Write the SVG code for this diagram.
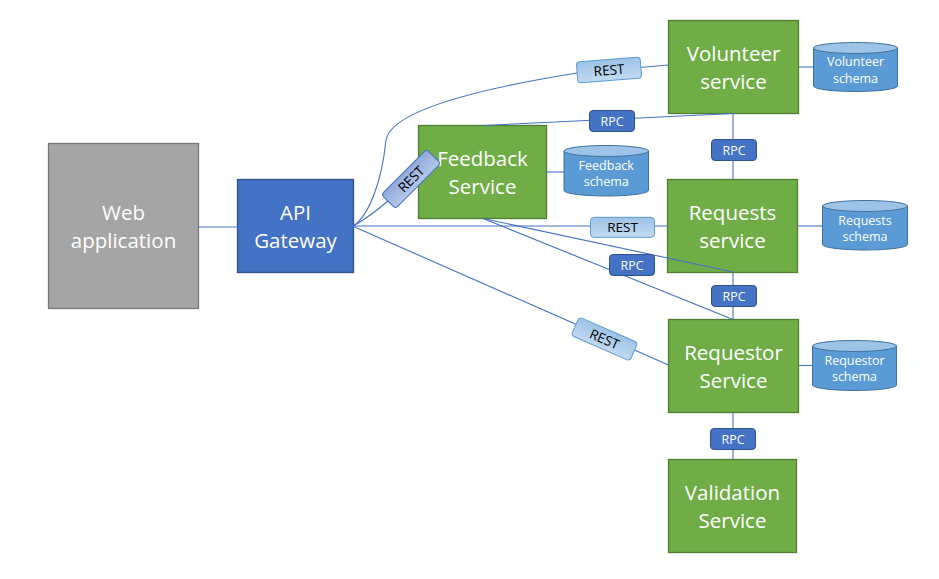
<svg xmlns="http://www.w3.org/2000/svg" width="939" height="579" viewBox="0 0 939 579">
<defs>
<linearGradient id="gRest" x1="0" y1="0" x2="0" y2="1">
<stop offset="0" stop-color="#9DC3E6"/>
<stop offset="1" stop-color="#C2DAF0"/>
</linearGradient>
<linearGradient id="gRest2" x1="0" y1="0" x2="0" y2="1">
<stop offset="0" stop-color="#8FAADC"/>
<stop offset="1" stop-color="#B4C7E7"/>
</linearGradient>
</defs>
<style>
.green{fill:#70AD47;stroke:#507E32;stroke-width:1.3}
.blue{fill:#4472C4;stroke:#2F528F;stroke-width:1.3}
.gray{fill:#A5A5A5;stroke:#787878;stroke-width:1.3}
.tn{font-family:"Open Sans","Noto Sans",sans-serif;font-size:20.5px;fill:#FFFFFF;text-anchor:middle}
.ts{font-family:"Open Sans","Noto Sans",sans-serif;font-size:12.5px;fill:#FFFFFF;text-anchor:middle}
.cb{fill:#5B9BD5;stroke:#41719C;stroke-width:1}
.ct{fill:#9DC3E6;stroke:#41719C;stroke-width:1}
.conn{fill:none;stroke:#4472C4;stroke-width:1.1}
.lrest{fill:url(#gRest);stroke:#5B9BD5;stroke-width:1}
.lrest2{fill:url(#gRest2);stroke:#4472C4;stroke-width:1}
.lrpc{fill:#4472C4;stroke:#2F528F;stroke-width:1}
.tr{font-family:"Open Sans","Noto Sans",sans-serif;font-size:13.5px;fill:#000000;text-anchor:middle}
.tp{font-family:"Open Sans","Noto Sans",sans-serif;font-size:12.5px;fill:#FFFFFF;text-anchor:middle}
</style>

<g id="web-application">
<rect class="gray" x="48.5" y="143.5" width="150" height="165"/>
<text class="tn" x="123.5" y="220">Web</text>
<text class="tn" x="123.5" y="248">application</text>
</g>
<g id="api-gateway">
<rect class="blue" x="237.5" y="179.5" width="116" height="93"/>
<text class="tn" x="295.5" y="220">API</text>
<text class="tn" x="295.5" y="248">Gateway</text>
</g>
<g id="feedback-service">
<rect class="green" x="418.5" y="125.5" width="128" height="93"/>
<text class="tn" x="482.5" y="166">Feedback</text>
<text class="tn" x="482.5" y="194">Service</text>
</g>
<g id="volunteer-service">
<rect class="green" x="668.5" y="20.5" width="130" height="93"/>
<text class="tn" x="733.5" y="61">Volunteer</text>
<text class="tn" x="733.5" y="89">service</text>
</g>
<g id="requests-service">
<rect class="green" x="667.5" y="179.5" width="130" height="93"/>
<text class="tn" x="732.5" y="220">Requests</text>
<text class="tn" x="732.5" y="248">service</text>
</g>
<g id="requestor-service">
<rect class="green" x="668.5" y="319.5" width="130" height="93"/>
<text class="tn" x="733.5" y="360">Requestor</text>
<text class="tn" x="733.5" y="388">Service</text>
</g>
<g id="validation-service">
<rect class="green" x="668.5" y="459.5" width="128" height="93"/>
<text class="tn" x="732.5" y="500">Validation</text>
<text class="tn" x="732.5" y="528">Service</text>
</g>

<g id="volunteer-schema">
<path class="cb" d="M813.5,48 L813.5,86 A42,5.5 0 0 0 897.5,86 L897.5,48 Z"/>
<ellipse class="ct" cx="855.5" cy="48" rx="42" ry="5.5"/>
<text class="ts" x="855.5" y="66">Volunteer</text>
<text class="ts" x="855.5" y="82.5">schema</text>
</g>
<g id="feedback-schema">
<path class="cb" d="M564,151 L564,190.5 A42.25,5.5 0 0 0 648.5,190.5 L648.5,151 Z"/>
<ellipse class="ct" cx="606.25" cy="151" rx="42.25" ry="5.5"/>
<text class="ts" x="606.25" y="169.5">Feedback</text>
<text class="ts" x="606.25" y="186">schema</text>
</g>
<g id="requests-schema">
<path class="cb" d="M822.5,206 L822.5,244.5 A42.5,5.5 0 0 0 907.5,244.5 L907.5,206 Z"/>
<ellipse class="ct" cx="865" cy="206" rx="42.5" ry="5.5"/>
<text class="ts" x="865" y="224.5">Requests</text>
<text class="ts" x="865" y="241">schema</text>
</g>
<g id="requestor-schema">
<path class="cb" d="M812.5,346 L812.5,385 A42,5.5 0 0 0 896.5,385 L896.5,346 Z"/>
<ellipse class="ct" cx="854.5" cy="346" rx="42" ry="5.5"/>
<text class="ts" x="854.5" y="364.5">Requestor</text>
<text class="ts" x="854.5" y="381">schema</text>
</g>

<g id="connectors">
<line class="conn" x1="198.5" y1="227" x2="237.5" y2="227"/>
<path class="conn" d="M353.5,226 C370,214 382,180 386,140 C390,118 440,95 577,73 L668.5,65"/>
<path class="conn" d="M353.5,226 C368,217 380,210 411,179 L418.5,172"/>
<line class="conn" x1="483" y1="125.5" x2="733" y2="113.5"/>
<line class="conn" x1="353.5" y1="226" x2="667.5" y2="226"/>
<line class="conn" x1="483" y1="218.5" x2="733" y2="272"/>
<line class="conn" x1="483" y1="218.5" x2="733" y2="319.5"/>
<line class="conn" x1="353.5" y1="226.5" x2="668.5" y2="365"/>
<line class="conn" x1="733" y1="113.5" x2="733" y2="179.5"/>
<line class="conn" x1="733" y1="272.5" x2="733" y2="319.5"/>
<line class="conn" x1="733" y1="412.5" x2="733" y2="459.5"/>
<line class="conn" x1="798.5" y1="67" x2="813.5" y2="67"/>
<line class="conn" x1="546.5" y1="172" x2="564" y2="172"/>
<line class="conn" x1="797.5" y1="226" x2="822.5" y2="226"/>
<line class="conn" x1="798.5" y1="365.5" x2="812.5" y2="365.5"/>

<g transform="translate(609,70) rotate(-4.5)">
<rect class="lrest" x="-32" y="-10.5" width="64" height="21" rx="3.5"/>
<text class="tr" x="0" y="5">REST</text>
</g>
<g transform="translate(612,121)">
<rect class="lrpc" x="-22.5" y="-10.5" width="45" height="21" rx="3.5"/>
<text class="tp" x="0" y="4.5">RPC</text>
</g>
<g transform="translate(411,179) rotate(-45)">
<rect class="lrest2" x="-32" y="-10" width="64" height="20" rx="3.5"/>
<text class="tr" x="0" y="5">REST</text>
</g>
<g transform="translate(734,150)">
<rect class="lrpc" x="-22.5" y="-10.5" width="45" height="21" rx="3.5"/>
<text class="tp" x="0" y="4.5">RPC</text>
</g>
<g transform="translate(622.5,227.3)">
<rect class="lrest" x="-32" y="-10" width="64" height="20" rx="3.5"/>
<text class="tr" x="0" y="5">REST</text>
</g>
<g transform="translate(632,265)">
<rect class="lrpc" x="-22.5" y="-10.5" width="45" height="21" rx="3.5"/>
<text class="tp" x="0" y="4.5">RPC</text>
</g>
<g transform="translate(734,296)">
<rect class="lrpc" x="-22.5" y="-10.5" width="45" height="21" rx="3.5"/>
<text class="tp" x="0" y="4.5">RPC</text>
</g>
<g transform="translate(604.5,339) rotate(23.7)">
<rect class="lrest" x="-32" y="-10" width="64" height="20" rx="3.5"/>
<text class="tr" x="0" y="5">REST</text>
</g>
<g transform="translate(733,439)">
<rect class="lrpc" x="-22.5" y="-10.5" width="45" height="21" rx="3.5"/>
<text class="tp" x="0" y="4.5">RPC</text>
</g>
</g>
</svg>
